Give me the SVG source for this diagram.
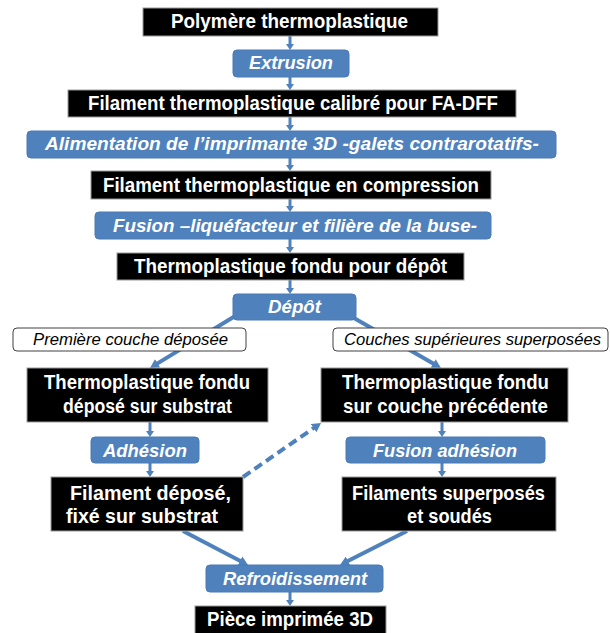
<svg xmlns="http://www.w3.org/2000/svg" width="610" height="633" viewBox="0 0 610 633">
  <style>
    .blk { fill: #000; stroke: #9a9a9a; stroke-width: 1; }
    .blu { fill: #4F81BD; stroke: #4a7ab4; stroke-width: 1; }
    .lbl { fill: #fff; stroke: #404040; stroke-width: 1; }
    .wt { fill: #fff; font-family: "Liberation Sans", Arial, sans-serif; font-weight: bold; font-size: 19.5px; }
    .wi { fill: #fff; font-family: "Liberation Sans", Arial, sans-serif; font-weight: bold; font-style: italic; font-size: 19px; }
    .bi { fill: #000; font-family: "Liberation Sans", Arial, sans-serif; font-style: italic; font-size: 17px; }
    .v { stroke: #4F81BD; stroke-width: 3; fill: none; marker-end: url(#ah); }
    .d { stroke: #4F81BD; stroke-width: 4; fill: none; marker-end: url(#ahl); }
    .dash { stroke-dasharray: 9 5; }
  </style>
  <defs>
    <marker id="ah" viewBox="0 0 6 8" refX="2" refY="4" markerWidth="6" markerHeight="8" markerUnits="userSpaceOnUse" orient="auto">
      <path d="M0,0 L6,4 L0,8 z" fill="#4F81BD"/>
    </marker>
    <marker id="ahl" viewBox="0 0 9 10" refX="3" refY="5" markerWidth="9" markerHeight="10" markerUnits="userSpaceOnUse" orient="auto">
      <path d="M0,0 L9,5 L0,10 z" fill="#4F81BD"/>
    </marker>
  </defs>

  <g id="connectors">
    <line class="v" x1="290" y1="36" x2="290" y2="46"/>
    <line class="v" x1="290" y1="77" x2="290" y2="86"/>
    <line class="v" x1="290" y1="117" x2="290" y2="127"/>
    <line class="v" x1="290" y1="158" x2="290" y2="167"/>
    <line class="v" x1="290" y1="199" x2="290" y2="208"/>
    <line class="v" x1="290" y1="239" x2="290" y2="249"/>
    <line class="v" x1="290" y1="280" x2="290" y2="290"/>
    <line class="v" x1="150" y1="422" x2="150" y2="433"/>
    <line class="v" x1="150" y1="463" x2="150" y2="473"/>
    <line class="v" x1="442" y1="422" x2="442" y2="433"/>
    <line class="v" x1="442" y1="463" x2="442" y2="473"/>
    <line class="v" x1="290" y1="592" x2="290" y2="602"/>
    <line class="d" x1="245" y1="310" x2="155.1" y2="364.9"/>
    <line class="d" x1="340" y1="310" x2="435.8" y2="365"/>
    <line class="d dash" x1="243" y1="477" x2="316.1" y2="426.4"/>
    <line class="d" x1="183" y1="531" x2="242.7" y2="562.2"/>
    <line class="d" x1="407" y1="531" x2="345.4" y2="562.3"/>
  </g>

  <g id="n-polymere">
    <rect class="blk" x="143" y="8" width="295" height="28"/>
    <text class="wt" x="171" y="28" textLength="237" lengthAdjust="spacingAndGlyphs">Polymère thermoplastique</text>
  </g>
  <g id="n-extrusion">
    <rect class="blu" x="233" y="50" width="116" height="27" rx="4"/>
    <text class="wi" x="249" y="69" textLength="84" lengthAdjust="spacingAndGlyphs">Extrusion</text>
  </g>
  <g id="n-filament-calibre">
    <rect class="blk" x="68" y="90" width="448" height="27"/>
    <text class="wt" x="88" y="110" textLength="410" lengthAdjust="spacingAndGlyphs">Filament thermoplastique calibré pour FA-DFF</text>
  </g>
  <g id="n-alimentation">
    <rect class="blu" x="27" y="131" width="529" height="27" rx="4"/>
    <text class="wi" x="45" y="150" textLength="494" lengthAdjust="spacingAndGlyphs">Alimentation de l’imprimante 3D -galets contrarotatifs-</text>
  </g>
  <g id="n-compression">
    <rect class="blk" x="91" y="171" width="400" height="28"/>
    <text class="wt" x="103" y="192" textLength="376" lengthAdjust="spacingAndGlyphs">Filament thermoplastique en compression</text>
  </g>
  <g id="n-fusion">
    <rect class="blu" x="95" y="212" width="396" height="27" rx="4"/>
    <text class="wi" x="113" y="232" textLength="364" lengthAdjust="spacingAndGlyphs">Fusion –liquéfacteur et filière de la buse-</text>
  </g>
  <g id="n-fondu-depot">
    <rect class="blk" x="117" y="253" width="347" height="27"/>
    <text class="wt" x="134" y="273" textLength="313" lengthAdjust="spacingAndGlyphs">Thermoplastique fondu pour dépôt</text>
  </g>
  <g id="n-depot">
    <rect class="blu" x="233" y="294" width="123" height="26" rx="4"/>
    <text class="wi" x="268" y="313" textLength="53" lengthAdjust="spacingAndGlyphs">Dépôt</text>
  </g>
  <g id="l-premiere">
    <rect class="lbl" x="13" y="328" width="233" height="23" rx="4"/>
    <text class="bi" x="33" y="345" textLength="195" lengthAdjust="spacingAndGlyphs">Première couche déposée</text>
  </g>
  <g id="l-couches">
    <rect class="lbl" x="333" y="328" width="275" height="23" rx="4"/>
    <text class="bi" x="344" y="345" textLength="257" lengthAdjust="spacingAndGlyphs">Couches supérieures superposées</text>
  </g>
  <g id="n-fondu-substrat">
    <rect class="blk" x="27" y="368" width="241" height="54"/>
    <text class="wt" x="44" y="389" textLength="206" lengthAdjust="spacingAndGlyphs">Thermoplastique fondu</text>
    <text class="wt" x="63" y="413" textLength="169" lengthAdjust="spacingAndGlyphs">déposé sur substrat</text>
  </g>
  <g id="n-fondu-couche">
    <rect class="blk" x="321" y="368" width="247" height="54"/>
    <text class="wt" x="342" y="389" textLength="207" lengthAdjust="spacingAndGlyphs">Thermoplastique fondu</text>
    <text class="wt" x="343" y="413" textLength="205" lengthAdjust="spacingAndGlyphs">sur couche précédente</text>
  </g>
  <g id="n-adhesion">
    <rect class="blu" x="91" y="437" width="108" height="26" rx="4"/>
    <text class="wi" x="103" y="457" textLength="84" lengthAdjust="spacingAndGlyphs">Adhésion</text>
  </g>
  <g id="n-fusion-adhesion">
    <rect class="blu" x="346" y="437" width="199" height="26" rx="4"/>
    <text class="wi" x="373" y="457" textLength="144" lengthAdjust="spacingAndGlyphs">Fusion adhésion</text>
  </g>
  <g id="n-filament-depose">
    <rect class="blk" x="51" y="477" width="192" height="54"/>
    <text class="wt" x="70" y="500" textLength="161" lengthAdjust="spacingAndGlyphs">Filament déposé,</text>
    <text class="wt" x="66" y="523" textLength="152" lengthAdjust="spacingAndGlyphs">fixé sur substrat</text>
  </g>
  <g id="n-filaments-superposes">
    <rect class="blk" x="342" y="477" width="214" height="54"/>
    <text class="wt" x="352" y="500" textLength="193" lengthAdjust="spacingAndGlyphs">Filaments superposés</text>
    <text class="wt" x="407" y="523" textLength="85" lengthAdjust="spacingAndGlyphs">et soudés</text>
  </g>
  <g id="n-refroidissement">
    <rect class="blu" x="206" y="565" width="177" height="27" rx="4"/>
    <text class="wi" x="223" y="585" textLength="144" lengthAdjust="spacingAndGlyphs">Refroidissement</text>
  </g>
  <g id="n-piece">
    <rect class="blk" x="195" y="606" width="191" height="32"/>
    <text class="wt" x="207" y="626" textLength="166" lengthAdjust="spacingAndGlyphs">Pièce imprimée 3D</text>
  </g>
</svg>
